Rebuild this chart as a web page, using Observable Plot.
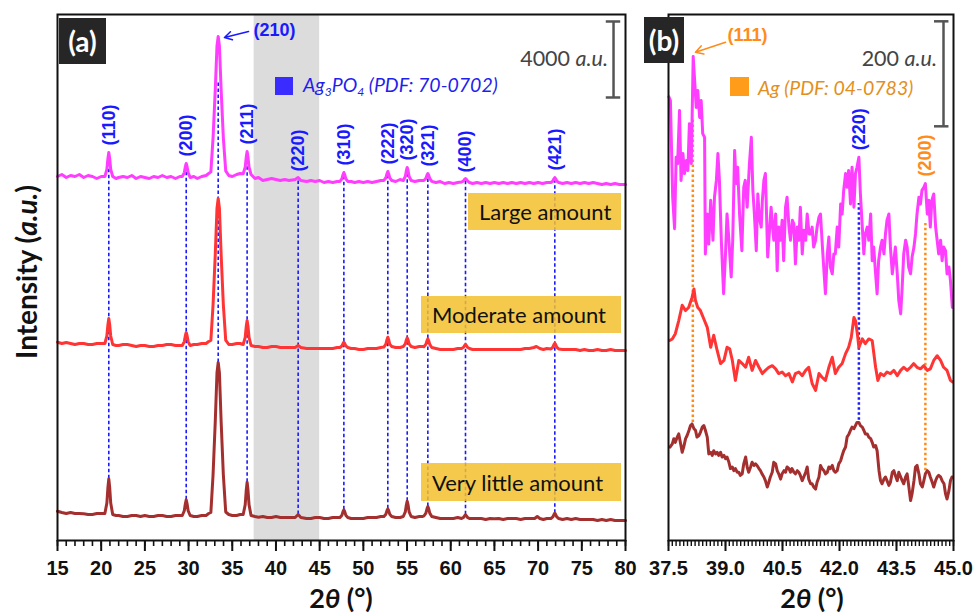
<!DOCTYPE html>
<html>
<head>
<meta charset="utf-8">
<script src="https://cdn.jsdelivr.net/npm/d3@7"></script>
<script src="https://cdn.jsdelivr.net/npm/@observablehq/plot@0.6"></script>
<style>
  html,body{margin:0;padding:0;background:#fff;}
  #wrap{position:relative;width:975px;height:614px;overflow:hidden;background:#fff;}
  #wrap > svg{position:absolute;top:0;}
  .ov{position:absolute;white-space:nowrap;line-height:1;}
  .tag{background:#262626;color:#fff;font:700 28px Lato,sans-serif;display:flex;align-items:center;justify-content:center;}
  .sample{background:rgba(242,192,45,0.85);color:#111;font:400 22px Lato,sans-serif;display:flex;align-items:center;padding-left:11px;box-sizing:border-box;}
  .leg{font:italic 400 19.5px Lato,sans-serif;transform:translateY(-50%);}
  .leg sub{font-size:0.62em;vertical-align:-0.3em;}
  .sq{width:18px;height:18px;}
  .scale{font:400 21.5px Lato,sans-serif;color:#444;transform:translate(-100%,-50%);}
  .xt{font:700 27px Lato,sans-serif;color:#111;transform:translate(-50%,-50%);}
  .yt{font:700 28px Lato,sans-serif;color:#111;transform:translate(-50%,-50%) rotate(-90deg);}
</style>
</head>
<body>
<div id="wrap"></div>
<script>
// ---------------- DATA: panel (a), 2θ 15–80°, intensity (a.u., stacked) ----------------
const pinkA = [[15.0,19158],[15.5,19263],[16.0,19105],[16.5,19210],[17.0,19158],[17.5,19263],[18.0,19105],[18.5,19210],[19.0,19158],[19.5,19053],[20.0,19158],
 [20.42,19158],[20.65,19537],[20.77,20105],[20.87,20421],[20.97,20105],[21.09,19537],[21.32,19158],
 [21.7,19053],[22.0,19105],[22.5,19158],[23.0,19105],[23.5,19210],[24.0,19053],[24.5,19158],[25.0,19105],[25.5,19053],[26.0,19158],[26.5,19105],[27.0,19210],[27.5,19105],[28.0,19158],[28.5,19053],[29.0,19158],
 [29.28,19158],[29.51,19363],[29.63,19671],[29.73,19842],[29.83,19671],[29.95,19363],[30.18,19105],
 [30.6,19158],[31.0,19053],[31.5,19158],[32.0,19210],[32.3,19316],
 [32.55,19400],[32.8,21182],[33.05,23676],[33.25,26027],[33.39,26526],[33.53,26027],[33.73,23676],[33.98,21182],[34.25,19450],
 [34.6,19210],[35.0,19158],[35.5,19263],[35.9,19316],
 [36.25,19300],[36.48,19652],[36.6,20180],[36.7,20474],[36.8,20180],[36.92,19652],[37.15,19263],
 [37.6,19053],[38.0,19105],[38.5,18947],[39.0,19000],[39.5,19053],[40.0,19000],[40.5,18947],[41.0,19000],[41.5,18947],
 [42.2,19000],[42.54,19105],[42.85,18947],
 [43.5,18894],[44.0,18947],[44.5,18894],[45.0,18947],[45.5,18842],[46.0,18894],[46.5,18842],[47.0,18894],
 [47.32,18900],[47.55,19040],[47.67,19251],[47.77,19368],[47.87,19251],[47.99,19040],[48.22,18900],
 [48.6,18894],[49.0,18842],[49.5,18894],[50.0,18842],[50.5,18894],[51.0,18842],[51.5,18894],[52.0,18947],
 [52.35,18950],[52.58,19091],[52.7,19303],[52.8,19421],[52.9,19303],[53.02,19091],[53.25,18947],
 [53.7,18894],[54.2,19000],
 [54.57,18950],[54.8,19155],[54.92,19462],[55.02,19632],[55.12,19462],[55.24,19155],[55.47,18947],
 [55.9,18894],[56.4,18947],[56.8,18950],
 [56.93,18950],[57.16,19060],[57.28,19225],[57.38,19316],[57.48,19225],[57.6,19060],[57.83,18900],
 [58.3,18842],[58.8,18894],[59.3,18789],[59.8,18842],[60.3,18789],[60.8,18842],
 [61.24,18870],[61.47,18925],[61.59,19007],[61.69,19053],[61.79,19007],[61.91,18925],[62.14,18842],
 [62.5,18789],[63.0,18842],[63.5,18789],[64.0,18842],[64.5,18789],[65.0,18842],[65.5,18789],[66.0,18842],[66.5,18789],[67.0,18842],[67.5,18789],[68.0,18842],[68.5,18789],[69.0,18842],[69.5,18789],[70.0,18842],[70.5,18789],[71.0,18842],
 [71.46,18842],[71.69,18921],[71.81,19039],[71.91,19105],[72.01,19039],[72.13,18921],[72.36,18842],
 [72.8,18789],[73.3,18842],[73.8,18789],[74.3,18842],[74.8,18789],[75.3,18842],[75.8,18789],[76.3,18842],[76.8,18789],[77.3,18737],[77.8,18789],[78.3,18737],[78.8,18789],[79.3,18737],[80.0,18737]];

const redA = [[15.0,10437],[15.5,10368],[16.0,10421],[16.5,10368],[17.0,10316],[17.5,10368],[18.0,10368],[18.5,10316],[19.0,10316],[19.5,10368],[20.0,10368],
 [20.42,10368],[20.65,10763],[20.77,11355],[20.87,11684],[20.97,11355],[21.09,10763],[21.32,10316],
 [21.7,10263],[22.0,10263],[22.5,10316],[23.0,10316],[23.5,10263],[24.0,10211],[24.5,10263],[25.0,10263],[25.5,10211],[26.0,10211],[26.5,10263],[27.0,10263],[27.5,10316],[28.0,10316],[28.5,10263],[29.0,10263],
 [29.28,10263],[29.51,10468],[29.63,10776],[29.73,10947],[29.83,10776],[29.95,10468],[30.18,10263],
 [30.6,10316],[31.0,10316],[31.5,10368],[32.0,10368],[32.3,10474],
 [32.55,10526],[32.8,12395],[33.05,15010],[33.25,17477],[33.39,18000],[33.53,17477],[33.73,15010],[33.98,12395],[34.25,10550],
 [34.6,10316],[35.0,10316],[35.5,10368],[35.9,10368],
 [36.25,10316],[36.48,10695],[36.6,11263],[36.7,11579],[36.8,11263],[36.92,10695],[37.15,10263],
 [37.6,10211],[38.0,10211],[38.5,10158],[39.0,10158],[39.5,10211],[40.0,10211],[40.5,10158],[41.0,10158],[41.5,10158],
 [42.2,10158],[42.54,10263],[42.85,10158],
 [43.5,10105],[44.0,10105],[44.5,10105],[45.0,10105],[45.5,10105],[46.0,10105],[46.5,10105],[47.0,10158],
 [47.32,10158],[47.55,10242],[47.67,10367],[47.77,10437],[47.87,10367],[47.99,10242],[48.22,10158],
 [48.6,10105],[49.0,10105],[49.5,10053],[50.0,10053],[50.5,10105],[51.0,10105],[51.5,10105],[52.0,10158],
 [52.35,10180],[52.58,10336],[52.7,10570],[52.8,10700],[52.9,10570],[53.02,10336],[53.25,10211],
 [53.7,10158],[54.2,10158],
 [54.57,10211],[54.8,10348],[54.92,10554],[55.02,10668],[55.12,10554],[55.24,10348],[55.47,10211],
 [55.9,10158],[56.4,10211],[56.8,10211],
 [56.93,10200],[57.16,10325],[57.28,10512],[57.38,10616],[57.48,10512],[57.6,10325],[57.83,10158],
 [58.3,10105],[58.8,10053],[59.3,10053],[59.8,10053],[60.3,10053],[60.8,10105],
 [61.24,10105],[61.47,10168],[61.59,10263],[61.69,10316],[61.79,10263],[61.91,10168],[62.14,10105],
 [62.5,10053],[63.0,10053],[63.5,10053],[64.0,10053],[64.5,10053],[65.0,10053],[65.5,10053],[66.0,10053],[66.5,10053],[67.0,10053],[67.5,10053],[68.0,10053],[68.5,10105],[69.0,10105],[69.5,10158],[69.8,10211],[70.2,10105],[70.6,10053],[71.0,10105],
 [71.46,10080],[71.69,10171],[71.81,10308],[71.91,10384],[72.01,10308],[72.13,10171],[72.36,10080],
 [72.8,10053],[73.3,10053],[73.8,10053],[74.3,10053],[74.8,10000],[75.3,10053],[75.8,10000],[76.3,10000],[76.8,10053],[77.3,10000],[77.8,10000],[78.3,10053],[78.8,10000],[79.3,10000],[80.0,10000]];

const brownA = [[15.0,1542],[15.5,1474],[16.0,1421],[16.5,1474],[17.0,1421],[17.5,1421],[18.0,1405],[18.5,1368],[19.0,1368],[19.5,1421],[20.0,1421],
 [20.42,1421],[20.65,1969],[20.77,2791],[20.87,3247],[20.97,2791],[21.09,1969],[21.32,1368],
 [21.7,1316],[22.0,1316],[22.5,1263],[23.0,1263],[23.5,1316],[24.0,1316],[24.5,1263],[25.0,1316],[25.5,1263],[26.0,1263],[26.5,1316],[27.0,1316],[27.5,1263],[28.0,1263],[28.5,1316],[29.0,1316],
 [29.28,1316],[29.51,1564],[29.63,1936],[29.73,2142],[29.83,1936],[29.95,1564],[30.18,1316],
 [30.6,1263],[31.0,1263],[31.5,1316],[32.0,1316],[32.3,1421],
 [32.55,1474],[32.8,3448],[33.05,6210],[33.25,8815],[33.39,9368],[33.53,8815],[33.73,6210],[33.98,3448],[34.25,1500],
 [34.6,1368],[35.0,1316],[35.5,1316],[35.9,1368],
 [36.25,1368],[36.48,1878],[36.6,2643],[36.7,3068],[36.8,2643],[36.92,1878],[37.15,1316],
 [37.6,1263],[38.0,1226],[38.5,1263],[39.0,1211],[39.5,1211],[40.0,1263],[40.5,1211],[41.0,1211],[41.5,1211],
 [42.2,1211],[42.54,1368],[42.85,1211],
 [43.5,1158],[44.0,1158],[44.5,1211],[45.0,1211],[45.5,1158],[46.0,1158],[46.5,1211],[47.0,1211],
 [47.32,1211],[47.55,1333],[47.67,1515],[47.77,1616],[47.87,1515],[47.99,1333],[48.22,1211],
 [48.6,1158],[49.0,1158],[49.5,1158],[50.0,1158],[50.5,1211],[51.0,1211],[51.5,1211],[52.0,1263],
 [52.35,1263],[52.58,1385],[52.7,1567],[52.8,1668],[52.9,1567],[53.02,1385],[53.25,1263],
 [53.7,1211],[54.2,1211],
 [54.57,1263],[54.8,1505],[54.92,1867],[55.02,2068],[55.12,1867],[55.24,1505],[55.47,1263],
 [55.9,1211],[56.4,1263],[56.8,1263],
 [56.93,1290],[57.16,1440],[57.28,1664],[57.38,1789],[57.48,1664],[57.6,1440],[57.83,1263],
 [58.3,1211],[58.8,1158],[59.3,1158],[59.8,1158],[60.3,1158],[60.8,1211],
 [61.24,1158],[61.47,1217],[61.59,1304],[61.69,1353],[61.79,1304],[61.91,1217],[62.14,1158],
 [62.5,1158],[63.0,1158],[63.5,1158],[64.0,1105],[64.5,1158],[65.0,1142],[65.5,1158],[66.0,1105],[66.5,1158],[67.0,1158],[67.5,1158],[68.0,1105],[68.5,1158],[69.0,1158],[69.6,1158],[69.9,1263],[70.2,1158],[70.6,1105],[71.0,1158],
 [71.46,1158],[71.69,1242],[71.81,1367],[71.91,1437],[72.01,1367],[72.13,1242],[72.36,1158],
 [72.8,1105],[73.3,1158],[73.8,1105],[74.3,1158],[74.8,1105],[75.3,1105],[75.8,1105],[76.3,1105],[76.8,1053],[77.3,1105],[77.8,1053],[78.3,1105],[78.8,1053],[79.3,1053],[80.0,1053]];

// Ag3PO4 reflections (PDF 70-0702): hkl, 2θ, reference-line top / bottom intensity
const hklA    = ["(110)","(200)","(210)","(211)","(220)","(310)","(222)","(320)","(321)","(400)","(421)"];
const hklPosA = [20.87, 29.73, 33.39, 36.7, 42.54, 47.77, 52.8, 55.02, 57.38, 61.69, 71.91];
const refTopA = [20421, 19842, 24210, 20474, 19052, 19368, 19421, 19632, 19316, 19000, 19105];
const refBotA = [3247, 2142, 9368, 3068, 1368, 1616, 1668, 2068, 1789, 1353, 1437];
const zoomRange = [37.5, 45];
const ticksMajorA = [15,20,25,30,35,40,45,50,55,60,65,70,75,80];

// ---------------- DATA: panel (b), 2θ 37.5–45° ----------------
const pinkB = [[37.51,845],[37.55,838],[37.61,654],[37.66,594],[37.70,730],[37.74,718],[37.79,819],[37.83,686],[37.88,737],[37.92,699],[37.97,724],[38.01,705],[38.05,794],[38.10,718],[38.15,922],[38.23,825],[38.27,857],[38.32,806],[38.36,838],[38.40,775],[38.45,768],[38.47,546],[38.52,622],[38.56,565],[38.61,648],[38.67,572],[38.71,654],[38.76,686],[38.80,737],[38.84,686],[38.89,572],[38.95,470],[39.00,546],[39.04,622],[39.09,572],[39.15,502],[39.19,572],[39.24,743],[39.28,680],[39.32,711],[39.37,622],[39.43,552],[39.48,673],[39.52,686],[39.57,635],[39.63,718],[39.68,768],[39.72,667],[39.76,622],[39.81,552],[39.85,660],[39.89,616],[39.94,597],[39.97,648],[40.01,686],[40.05,699],[40.08,622],[40.11,540],[40.17,603],[40.20,635],[40.24,597],[40.27,572],[40.32,622],[40.36,514],[40.40,597],[40.45,572],[40.49,610],[40.53,533],[40.58,635],[40.62,654],[40.67,597],[40.71,572],[40.76,610],[40.80,603],[40.84,527],[40.89,597],[40.93,572],[40.97,635],[41.02,546],[41.06,591],[41.11,572],[41.15,622],[41.20,584],[41.24,584],[41.28,597],[41.32,559],[41.37,572],[41.41,597],[41.46,616],[41.50,622],[41.54,572],[41.59,514],[41.63,470],[41.68,546],[41.72,578],[41.76,521],[41.81,508],[41.85,546],[41.89,546],[41.94,597],[41.98,559],[42.03,641],[42.07,622],[42.11,667],[42.16,699],[42.20,673],[42.24,705],[42.29,641],[42.33,711],[42.38,635],[42.42,699],[42.46,711],[42.51,730],[42.55,660],[42.60,597],[42.64,546],[42.68,584],[42.73,597],[42.77,572],[42.82,622],[42.86,533],[42.90,559],[42.95,508],[42.99,470],[43.03,533],[43.08,559],[43.12,572],[43.17,546],[43.21,584],[43.25,610],[43.30,622],[43.34,559],[43.39,508],[43.43,533],[43.47,559],[43.52,508],[43.56,457],[43.61,432],[43.65,483],[43.69,546],[43.74,572],[43.78,559],[43.82,521],[43.87,508],[43.91,540],[43.96,559],[44.00,584],[44.04,622],[44.09,654],[44.13,641],[44.17,667],[44.22,673],[44.26,680],[44.31,622],[44.35,648],[44.39,597],[44.43,648],[44.48,660],[44.53,597],[44.57,572],[44.61,546],[44.66,572],[44.70,533],[44.74,559],[44.79,552],[44.83,508],[44.88,521],[44.92,495],[44.97,444]];

const redB = [[37.53,381],[37.60,384],[37.68,394],[37.77,419],[37.86,448],[37.95,438],[38.03,444],[38.12,463],[38.17,479],[38.21,457],[38.27,444],[38.34,438],[38.43,422],[38.52,406],[38.61,368],[38.69,391],[38.78,362],[38.87,337],[38.96,343],[39.04,368],[39.11,365],[39.18,343],[39.26,305],[39.35,343],[39.44,337],[39.53,330],[39.61,349],[39.70,324],[39.79,343],[39.88,330],[39.97,318],[40.05,324],[40.14,330],[40.23,333],[40.32,327],[40.40,318],[40.49,321],[40.58,314],[40.67,318],[40.76,302],[40.84,318],[40.93,321],[41.02,314],[41.11,324],[41.19,330],[41.28,299],[41.37,286],[41.46,318],[41.54,311],[41.63,305],[41.72,330],[41.81,349],[41.89,318],[41.98,330],[42.07,337],[42.16,356],[42.24,368],[42.31,387],[42.38,425],[42.42,419],[42.47,394],[42.51,368],[42.55,375],[42.60,384],[42.68,375],[42.77,384],[42.86,381],[42.95,330],[43.01,305],[43.08,318],[43.17,314],[43.25,321],[43.34,318],[43.43,324],[43.52,314],[43.61,324],[43.69,330],[43.78,324],[43.87,330],[43.95,337],[44.04,330],[44.13,327],[44.22,333],[44.31,324],[44.39,327],[44.48,343],[44.57,352],[44.66,343],[44.74,330],[44.83,324],[44.92,305],[44.97,302]];

const brownB = [[37.54,178],[37.60,184],[37.64,194],[37.68,187],[37.73,197],[37.77,203],[37.82,184],[37.86,168],[37.90,178],[37.95,194],[37.99,200],[38.04,210],[38.08,219],[38.12,222],[38.17,213],[38.21,210],[38.25,197],[38.30,200],[38.34,206],[38.39,216],[38.43,219],[38.47,210],[38.52,197],[38.56,165],[38.61,168],[38.65,162],[38.69,171],[38.74,165],[38.78,168],[38.82,162],[38.87,168],[38.91,159],[38.96,162],[39.00,156],[39.04,159],[39.09,149],[39.13,137],[39.18,140],[39.22,133],[39.26,137],[39.31,130],[39.35,130],[39.39,124],[39.44,127],[39.48,146],[39.53,159],[39.57,140],[39.61,130],[39.66,140],[39.70,149],[39.75,143],[39.79,146],[39.83,143],[39.88,137],[39.92,133],[39.96,127],[40.01,121],[40.05,114],[40.10,102],[40.14,111],[40.18,121],[40.23,130],[40.27,149],[40.32,146],[40.36,133],[40.40,127],[40.45,117],[40.49,127],[40.54,133],[40.58,130],[40.62,140],[40.67,137],[40.71,130],[40.75,137],[40.80,130],[40.84,127],[40.89,133],[40.93,130],[40.97,124],[41.02,114],[41.06,121],[41.11,130],[41.15,140],[41.19,117],[41.24,108],[41.28,108],[41.32,102],[41.37,98],[41.41,111],[41.46,121],[41.50,143],[41.54,137],[41.59,133],[41.63,127],[41.68,130],[41.72,140],[41.76,137],[41.81,143],[41.85,133],[41.89,130],[41.94,133],[41.98,146],[42.03,152],[42.07,162],[42.11,171],[42.16,178],[42.20,197],[42.25,203],[42.29,210],[42.33,216],[42.38,213],[42.42,219],[42.46,225],[42.51,225],[42.55,219],[42.60,216],[42.64,210],[42.68,203],[42.73,203],[42.77,197],[42.82,194],[42.86,187],[42.90,178],[42.95,181],[42.99,171],[43.04,133],[43.08,114],[43.12,108],[43.17,117],[43.21,121],[43.25,114],[43.30,105],[43.34,111],[43.39,130],[43.43,133],[43.47,124],[43.52,114],[43.56,130],[43.61,121],[43.65,114],[43.69,108],[43.74,121],[43.78,127],[43.82,105],[43.87,76],[43.91,89],[43.96,114],[44.00,140],[44.04,143],[44.09,127],[44.13,108],[44.18,102],[44.22,114],[44.26,127],[44.31,133],[44.35,130],[44.39,121],[44.44,111],[44.48,102],[44.53,114],[44.57,121],[44.61,124],[44.66,121],[44.70,114],[44.75,108],[44.79,89],[44.83,79],[44.88,95],[44.92,114],[44.96,121]];

// Reflections marked in panel (b)
const hklB     = ["(111)","(220)","(200)"];
const phaseB   = ["Ag","Ag3PO4","Ag"];
const hklPosB  = [38.14, 42.51, 44.26];
const refTopB  = [806, 642, 604];
const refBotB  = [225, 229, 133];
const peakTopB = [922, 730, 680];
const ticksMajorB = [37.5, 39.0, 40.5, 42.0, 43.5, 45.0];

const sampleLabels = ["Large amount", "Moderate amount", "Very little amount"];
const seriesColors = {large: "#ff3dff", moderate: "#ff3535", little: "#a3302f"};
const phaseColors = {Ag3PO4: "#1a1aff", Ag: "#ff8c1a"};

// ---------------- build ----------------
const ink = "#111";
const wrap = document.getElementById("wrap");
const refA = hklA.map((label, i) => ({label, pos: hklPosA[i], top: refTopA[i], bot: refBotA[i]}));
const refB = hklB.map((label, i) => ({label, phase: phaseB[i], pos: hklPosB[i], top: refTopB[i], bot: refBotB[i], peak: peakTopB[i]}));
const XY = {x: d => d[0], y: d => d[1]};

const plotA = Plot.plot({
  width: 640, height: 614,
  marginLeft: 57, marginRight: 15, marginTop: 14, marginBottom: 74,
  style: {background: "transparent", fontFamily: "'Liberation Sans', Arial, sans-serif", overflow: "visible"},
  x: {domain: [15, 80], label: null},
  y: {domain: [0, 27684], axis: null},
  marks: [
    Plot.rect([zoomRange], {x1: d => d[0], x2: d => d[1], fill: "#dcdcdc"}),
    Plot.ruleX(refA, {x: "pos", y1: "bot", y2: "top", stroke: phaseColors.Ag3PO4, strokeWidth: 1.6, strokeDasharray: "3.5,2.5"}),
    Plot.line(brownA, {...XY, stroke: seriesColors.little, strokeWidth: 3, strokeLinejoin: "round"}),
    Plot.line(redA, {...XY, stroke: seriesColors.moderate, strokeWidth: 3, strokeLinejoin: "round"}),
    Plot.line(pinkA, {...XY, stroke: seriesColors.large, strokeWidth: 3, strokeLinejoin: "round"}),
    Plot.text(refA.filter(d => d.label !== "(210)"), {x: "pos", y: "top", text: "label", rotate: -90, textAnchor: "start", dy: -7,
      fill: phaseColors.Ag3PO4, fontSize: 18, fontWeight: "bold"}),
    Plot.arrow([0], {x1: 36.86, y1: 26789, x2: 34.11, y2: 26473, stroke: phaseColors.Ag3PO4, strokeWidth: 1.6, headLength: 8}),
    Plot.text(["(210)"], {x: 37.43, y: 26842, text: d => d, textAnchor: "start", fill: phaseColors.Ag3PO4, fontSize: 18, fontWeight: "bold"}),
    // 4000 a.u. scale bar
    Plot.ruleX([0], {x: 78.63, y1: 23316, y2: 23316 + 4000, stroke: "#555", strokeWidth: 2.5}),
    Plot.ruleY([23316, 27316], {y: d => d, x1: 77.8, x2: 79.45, stroke: "#555", strokeWidth: 2.5}),
    Plot.frame({stroke: ink, strokeWidth: 2}),
    Plot.axisX({ticks: d3.range(15, 81, 1), tickSize: 6, tickFormat: () => "", color: ink, strokeWidth: 1.6, label: null}),
    Plot.axisX({ticks: ticksMajorA, tickSize: 11, tickPadding: 9, fontSize: 20, fontWeight: "bold", color: ink, strokeWidth: 2, label: null})
  ]
});

const plotB = Plot.plot({
  width: 335, height: 614,
  marginLeft: 28, marginRight: 22, marginTop: 14, marginBottom: 74,
  style: {background: "transparent", fontFamily: "'Liberation Sans', Arial, sans-serif", overflow: "visible"},
  x: {domain: [37.5, 45], label: null},
  y: {domain: [0, 1002], axis: null},
  marks: [
    Plot.ruleX(refB, {x: "pos", y1: "bot", y2: "top", stroke: d => phaseColors[d.phase], strokeWidth: 2.5, strokeDasharray: "2.5,2.5"}),
    Plot.line(brownB, {...XY, stroke: seriesColors.little, strokeWidth: 3, strokeLinejoin: "round"}),
    Plot.line(redB, {...XY, stroke: seriesColors.moderate, strokeWidth: 3, strokeLinejoin: "round"}),
    Plot.line(pinkB, {...XY, stroke: seriesColors.large, strokeWidth: 3, strokeLinejoin: "round"}),
    Plot.text(refB.filter(d => d.label !== "(111)"), {x: "pos", y: "peak", text: "label", rotate: -90, textAnchor: "start", dy: -7,
      fill: d => phaseColors[d.phase], fontSize: 18, fontWeight: "bold"}),
    Plot.arrow([0], {x1: 39.0, y1: 949, x2: 38.21, y2: 930, stroke: phaseColors.Ag, strokeWidth: 1.6, headLength: 8}),
    Plot.text(["(111)"], {x: 39.05, y: 962, text: d => d, textAnchor: "start", fill: phaseColors.Ag, fontSize: 18, fontWeight: "bold"}),
    // 200 a.u. scale bar
    Plot.ruleX([0], {x: 44.737, y1: 789, y2: 789 + 200, stroke: "#555", strokeWidth: 2.5}),
    Plot.ruleY([789, 989], {y: d => d, x1: 44.5, x2: 44.88, stroke: "#555", strokeWidth: 2.5}),
    Plot.frame({stroke: ink, strokeWidth: 2}),
    Plot.axisX({ticks: d3.range(375, 451).map(d => d / 10), tickSize: 6, tickFormat: () => "", color: ink, strokeWidth: 1.4, label: null}),
    Plot.axisX({ticks: ticksMajorB, tickSize: 11, tickPadding: 9, tickFormat: d3.format(".1f"), fontSize: 20, fontWeight: "bold", color: ink, strokeWidth: 2, label: null})
  ]
});

plotA.style.left = "0px";
plotB.style.left = "640px";
wrap.appendChild(plotA);
wrap.appendChild(plotB);

function ov(html, cls, style) {
  const d = document.createElement("div");
  d.className = "ov " + cls;
  d.innerHTML = html;
  Object.assign(d.style, style);
  wrap.appendChild(d);
  return d;
}
// panel tags
ov("(a)", "tag", {left: "59px", top: "18px", width: "47px", height: "46px"});
ov("(b)", "tag", {left: "644px", top: "17px", width: "40px", height: "46px"});
// sample labels
ov(sampleLabels[0], "sample", {left: "468px", top: "193px", width: "153px", height: "37px"});
ov(sampleLabels[1], "sample", {left: "421px", top: "296px", width: "200px", height: "37px"});
ov(sampleLabels[2], "sample", {left: "421px", top: "463px", width: "200px", height: "38px"});
// legends
ov("", "sq", {left: "275px", top: "77px", background: "#3a2cff"});
ov("Ag<sub>3</sub>PO<sub>4</sub> (PDF: 70-0702)", "leg", {left: "303px", top: "86px", color: "#1f1fee"});
ov("", "sq", {left: "730px", top: "77px", background: "#ff9c1a", width: "19px", height: "19px"});
ov("Ag (PDF: 04-0783)", "leg", {left: "758px", top: "87px", color: "#e38f1c"});
// scale bar texts
ov("4000 <i>a.u.</i>", "scale", {left: "608px", top: "58px"});
ov("200 <i>a.u.</i>", "scale", {left: "937px", top: "58px"});
// axis titles
ov("2<i>θ</i> (°)", "xt", {left: "341px", top: "597px"});
ov("2<i>θ</i> (°)", "xt", {left: "812px", top: "597px"});
ov("Intensity (<i>a.u.</i>)", "yt", {left: "26px", top: "272px"});
</script>
</body>
</html>
